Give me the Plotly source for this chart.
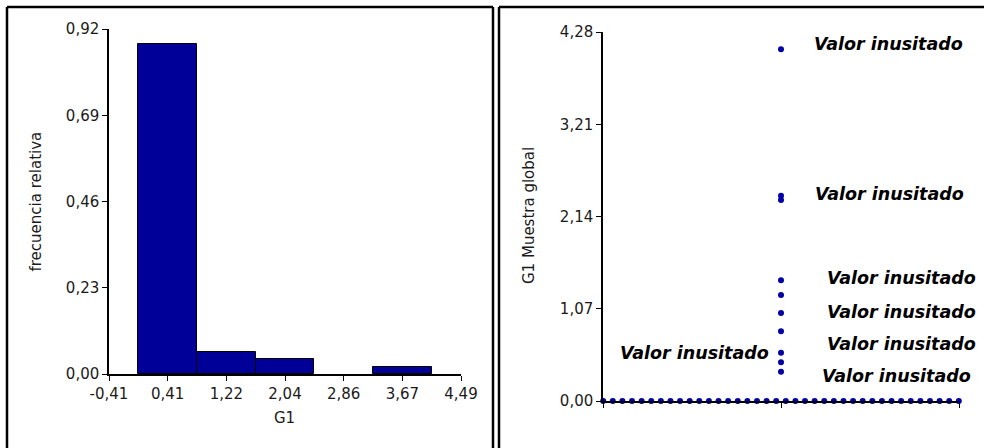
import plotly.graph_objects as go

# ---------------- data ----------------
# Histogram of G1 (relative frequency per bin)
bin_centers = [0.408, 1.224, 2.040, 2.856, 3.672]
rel_freq = [0.88, 0.06, 0.04, 0.00, 0.02]
bin_width = 0.816

hist_xticks = [-0.408, 0.408, 1.224, 2.040, 2.856, 3.672, 4.488]
hist_xticktext = ["-0,41", "0,41", "1,22", "2,04", "2,86", "3,67", "4,49"]
hist_yticks = [0.0, 0.23, 0.46, 0.69, 0.92]
hist_yticktext = ["0,00", "0,23", "0,46", "0,69", "0,92"]

# Dot plot of G1 (global sample)
g1_outliers = [4.08, 2.38, 2.33, 1.40, 1.23, 1.02, 0.81, 0.56, 0.45, 0.34]
n_zeros = 40
dot_yticks = [0.0, 1.07, 2.14, 3.21, 4.28]
dot_yticktext = ["0,00", "1,07", "2,14", "3,21", "4,28"]

label_text = "Valor inusitado"
# label anchors (data units) for the unusual values
label_right_y = [4.14, 2.40, 1.425, 1.033, 0.663, 0.287]
label_right_x = [1.172, 1.181, 1.247, 1.247, 1.247, 1.219]
label_left_y = [0.556]
label_left_x = [0.945]

# ---------------- figure ----------------
W, H = 984, 448
BLUE_BAR = "#000099"
BLUE_DOT = "#0000A6"
FONT = "DejaVu Sans"
TICKFONT = dict(family=FONT, size=15, color="#1a1a1a")

def px_x(p):
    return p / W

def px_y(p):
    return 1 - p / H

fig = go.Figure()

fig.add_trace(go.Bar(
    x=bin_centers, y=rel_freq, width=[bin_width] * len(bin_centers),
    marker=dict(color=BLUE_BAR,
                line=dict(color="black", width=[1 if v > 0 else 0 for v in rel_freq])),
    xaxis="x", yaxis="y", hoverinfo="x+y",
))

# dot plot: outliers stacked at x=1, zeros spread horizontally around x=1
step = 0.054
dot_x = [1.0] * len(g1_outliers) + [1 + (i - (n_zeros - 1) / 2) * step for i in range(n_zeros)]
dot_y = list(g1_outliers) + [0.0] * n_zeros
fig.add_trace(go.Scatter(
    x=dot_x, y=dot_y, mode="markers",
    marker=dict(color=BLUE_DOT, size=6, line=dict(width=0)),
    xaxis="x2", yaxis="y2", cliponaxis=False,
))

axis_common = dict(
    showline=True, linecolor="black", linewidth=1.5, ticks="outside",
    ticklen=5, tickcolor="black", tickwidth=1.2, showgrid=False,
    zeroline=False, tickfont=TICKFONT, fixedrange=True, automargin=False,
)

fig.update_layout(
    width=W, height=H,
    margin=dict(l=0, r=0, t=0, b=0, pad=0, autoexpand=False),
    paper_bgcolor="white", plot_bgcolor="white",
    showlegend=False, bargap=0,
    xaxis=dict(domain=[px_x(109), px_x(461)], range=[-0.408, 4.488],
               tickmode="array", tickvals=hist_xticks, ticktext=hist_xticktext,
               anchor="y", **axis_common),
    yaxis=dict(domain=[px_y(374), px_y(29)], range=[0, 0.92],
               tickmode="array", tickvals=hist_yticks, ticktext=hist_yticktext,
               anchor="x", **axis_common),
    xaxis2=dict(domain=[px_x(603), px_x(959)], range=[0, 2],
                tickmode="array", tickvals=[0, 1, 2], showticklabels=False,
                anchor="y2", **axis_common),
    yaxis2=dict(domain=[px_y(401), px_y(32)], range=[0, 4.28],
                tickmode="array", tickvals=dot_yticks, ticktext=dot_yticktext,
                anchor="x2", **axis_common),
)

annotations = []
# axis titles
title_font = dict(family=FONT, size=15, color="#1a1a1a")
annotations.append(dict(text="frecuencia relativa", xref="paper", yref="paper",
                        x=px_x(35), y=px_y(201.5), textangle=-90, showarrow=False,
                        font=title_font, xanchor="center", yanchor="middle"))
annotations.append(dict(text="G1", xref="paper", yref="paper",
                        x=px_x(284), y=px_y(418), showarrow=False,
                        font=title_font, xanchor="center", yanchor="middle"))
annotations.append(dict(text="G1 Muestra global", xref="paper", yref="paper",
                        x=px_x(529), y=px_y(216), textangle=-90, showarrow=False,
                        font=title_font, xanchor="center", yanchor="middle"))

lab_font = dict(family=FONT, size=17.5, color="black")
for xv, yv in zip(label_right_x, label_right_y):
    annotations.append(dict(text=f"<b><i>{label_text}</i></b>", xref="x2", yref="y2",
                            x=xv, y=yv, showarrow=False, font=lab_font,
                            xanchor="left", yanchor="middle"))
for xv, yv in zip(label_left_x, label_left_y):
    annotations.append(dict(text=f"<b><i>{label_text}</i></b>", xref="x2", yref="y2",
                            x=xv, y=yv, showarrow=False, font=lab_font,
                            xanchor="right", yanchor="middle"))
fig.update_layout(annotations=annotations)

# panel frames
shapes = []
frame_line = dict(color="black", width=2.5)
segments = [
    (7, 7, 493, 7), (7, 7, 7, 448), (493, 7, 493, 448),      # left panel
    (499, 7, 984, 7), (499, 7, 499, 448),                   # right panel
]
for x0, y0, x1, y1 in segments:
    shapes.append(dict(type="line", xref="paper", yref="paper",
                       x0=px_x(x0), y0=px_y(y0), x1=px_x(x1), y1=px_y(y1),
                       line=frame_line, layer="above"))
fig.update_layout(shapes=shapes)

fig.write_html("out.html", config={"displayModeBar": False},
               post_script="document.body.style.margin='0';")
